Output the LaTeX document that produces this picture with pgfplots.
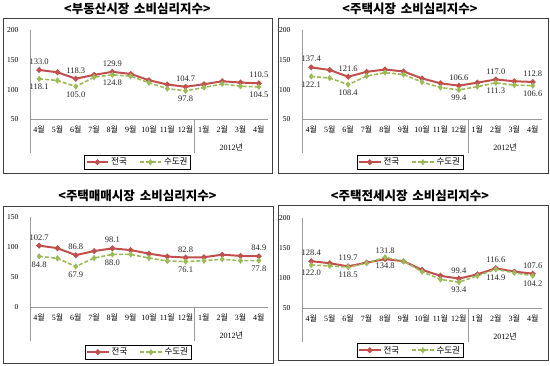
\documentclass[border=0pt]{standalone}
\usepackage{pgfplots}
\pgfplotsset{compat=1.18}
\usepackage{pgfplotstable}
\usepackage{fontspec}
\setmainfont{Liberation Serif}
\newfontfamily\kr{Noto Sans CJK KR}
\definecolor{cred}{RGB}{192,80,77}
\definecolor{cgreen}{RGB}{155,187,89}
\definecolor{axgray}{RGB}{155,155,155}
\newcommand{\w}{{\kr 월}}

\pgfplotstableread{
x a b la lb
0 133.0 118.1 133.0 118.1
1 129.1 115.3 {} {}
2 118.3 105.0 118.3 105.0
3 124.7 121.0 {} {}
4 129.9 124.8 129.9 124.8
5 126.3 122.5 {} {}
6 115.7 111.5 {} {}
7 108.5 101.5 {} {}
8 104.7 97.8 104.7 97.8
9 109.0 103.5 {} {}
10 114.0 109.5 {} {}
11 111.8 105.5 {} {}
12 110.5 104.5 110.5 104.5
}\dataA
\pgfplotstableread{
x a b la lb
0 137.4 122.1 137.4 122.1
1 133.0 119.4 {} {}
2 121.6 108.4 121.6 108.4
3 129.9 122.6 {} {}
4 133.8 128.6 {} {}
5 130.5 125.3 {} {}
6 118.8 112.7 {} {}
7 110.5 103.4 {} {}
8 106.6 99.4 106.6 99.4
9 111.6 104.9 {} {}
10 117.0 111.3 117.0 111.3
11 114.0 107.5 {} {}
12 112.8 106.6 112.8 106.6
}\dataB
\pgfplotstableread{
x a b la lb
0 102.7 84.8 102.7 84.8
1 98.4 81.5 {} {}
2 86.8 67.9 86.8 67.9
3 93.6 82.0 {} {}
4 98.1 88.0 98.1 88.0
5 95.2 88.0 {} {}
6 89.3 82.0 {} {}
7 84.5 77.0 {} {}
8 82.8 76.1 82.8 76.1
9 83.3 77.5 {} {}
10 87.6 80.0 {} {}
11 85.5 77.5 {} {}
12 84.9 77.8 84.9 77.8
}\dataC
\pgfplotstableread{
x a b la lb
0 128.4 122.0 128.4 122.0
1 125.0 120.5 {} {}
2 119.7 118.5 119.7 118.5
3 126.0 125.0 {} {}
4 131.8 134.8 131.8 134.8
5 128.4 128.5 {} {}
6 114.0 111.0 {} {}
7 104.0 98.0 {} {}
8 99.4 93.4 99.4 93.4
9 106.5 104.0 {} {}
10 116.6 114.9 116.6 114.9
11 111.0 109.0 {} {}
12 107.6 104.2 107.6 104.2
}\dataD

\pgfplotsset{
  panel/.style={
    scale only axis, anchor=south west,
    xmin=-0.5, xmax=12.5, clip=false,
    axis lines*=left,
    axis line style={draw=axgray, line width=0.8pt},
    major tick length=0pt,
    xtick={0,...,12},
    xticklabels={4\w,5\w,6\w,7\w,8\w,9\w,10\w,11\w,12\w,1\w,2\w,3\w,4\w},
    xticklabel style={font=\fontsize{8}{9}\selectfont, yshift=-3pt},
    yticklabel style={font=\fontsize{7.5}{9}\selectfont, xshift=-8pt},
    /pgf/number format/assume math mode=true,
    point meta=explicit symbolic,
    legend columns=2,
    legend style={draw=black, line width=0.6pt, anchor=center,
      font=\kr\fontsize{8.5}{10}\selectfont, inner sep=1pt,
      /tikz/every even column/.append style={column sep=10pt}},
    legend image code/.code={\draw[mark repeat=2, mark phase=2, #1] plot coordinates {(0cm,0cm)(0.38cm,0cm)(0.76cm,0cm)};},
  },
  s1/.style={color=cred, line width=2pt, mark=*, mark size=1.7pt, mark options={solid},
    nodes near coords, every node near coord/.append style={font=\fontsize{8.5}{10}\selectfont, text=black!85, anchor=south, yshift=1pt}},
  s2/.style={color=cgreen, line width=1.6pt, dash pattern=on 4pt off 2pt, mark=diamond*, mark size=1.9pt, mark options={solid},
    nodes near coords, every node near coord/.append style={font=\fontsize{8.5}{10}\selectfont, text=black!85, anchor=north, yshift=-1pt}},
}

\newcommand{\extras}[1]{%
  \draw[axgray, line width=0.8pt] (axis cs:-0.5,#1) -- ++(0pt,-34pt);
  \draw[axgray, line width=0.8pt] (axis cs:8.5,#1) -- ++(0pt,-34pt);
  \node[font=\fontsize{8}{9}\selectfont] at ([yshift=-28pt]axis cs:10.5,#1) {2012{\kr 년}};
}

\begin{document}
\begin{tikzpicture}
\path (0pt,0pt) rectangle (550pt,364pt);
% frames
\draw[black!75, line width=0.6pt] (3pt,347pt) rectangle (272pt,192pt);
\draw[black!75, line width=0.6pt] (278pt,347pt) rectangle (548pt,192pt);
\draw[black!75, line width=0.6pt] (3pt,159pt) rectangle (273pt,2pt);
\draw[black!75, line width=0.6pt] (278pt,160pt) rectangle (548pt,5pt);
% titles
\node[font=\kr\bfseries\fontsize{12.5}{14}\selectfont] at (137.5pt,356pt) {<부동산시장\hspace{0.4em}소비심리지수>};
\node[font=\kr\bfseries\fontsize{12.5}{14}\selectfont] at (410pt,356pt) {<주택시장\hspace{0.4em}소비심리지수>};
\node[font=\kr\bfseries\fontsize{12.5}{14}\selectfont] at (137.5pt,169pt) {<주택매매시장\hspace{0.4em}소비심리지수>};
\node[font=\kr\bfseries\fontsize{12.5}{14}\selectfont] at (410pt,169pt) {<주택전세시장\hspace{0.4em}소비심리지수>};

\begin{axis}[panel, at={(30pt,246pt)}, width=238pt, height=89pt, ymin=50, ymax=200, ytick={50,100,150,200},
  legend style={at={(0.452,-0.483)}}]
\addplot[s1] table[x=x, y=a, meta=la] {\dataA};
\addlegendentry{전국}
\addplot[s2] table[x=x, y=b, meta=lb] {\dataA};
\addlegendentry{수도권}
\extras{50}
\end{axis}

\begin{axis}[panel, at={(302pt,246pt)}, width=240pt, height=89pt, ymin=50, ymax=200, ytick={50,100,150,200},
  legend style={at={(0.45,-0.483)}}]
\addplot[s1] table[x=x, y=a, meta=la] {\dataB};
\addlegendentry{전국}
\addplot[s2] table[x=x, y=b, meta=lb] {\dataB};
\addlegendentry{수도권}
\extras{50}
\end{axis}

\begin{axis}[panel, at={(30pt,58pt)}, width=238pt, height=90pt, ymin=0, ymax=150, ytick={0,50,100,150},
  legend style={at={(0.454,-0.5)}}]
\addplot[s1] table[x=x, y=a, meta=la] {\dataC};
\addlegendentry{전국}
\addplot[s2] table[x=x, y=b, meta=lb] {\dataC};
\addlegendentry{수도권}
\extras{0}
\end{axis}

\begin{axis}[panel, at={(302pt,57pt)}, width=240pt, height=90pt, ymin=50, ymax=200, ytick={50,100,150,200},
  legend style={at={(0.45,-0.467)}}]
\addplot[s1] table[x=x, y=a, meta=la] {\dataD};
\addlegendentry{전국}
\addplot[s2] table[x=x, y=b, meta=lb] {\dataD};
\addlegendentry{수도권}
\extras{50}
\end{axis}
\end{tikzpicture}
\end{document}
